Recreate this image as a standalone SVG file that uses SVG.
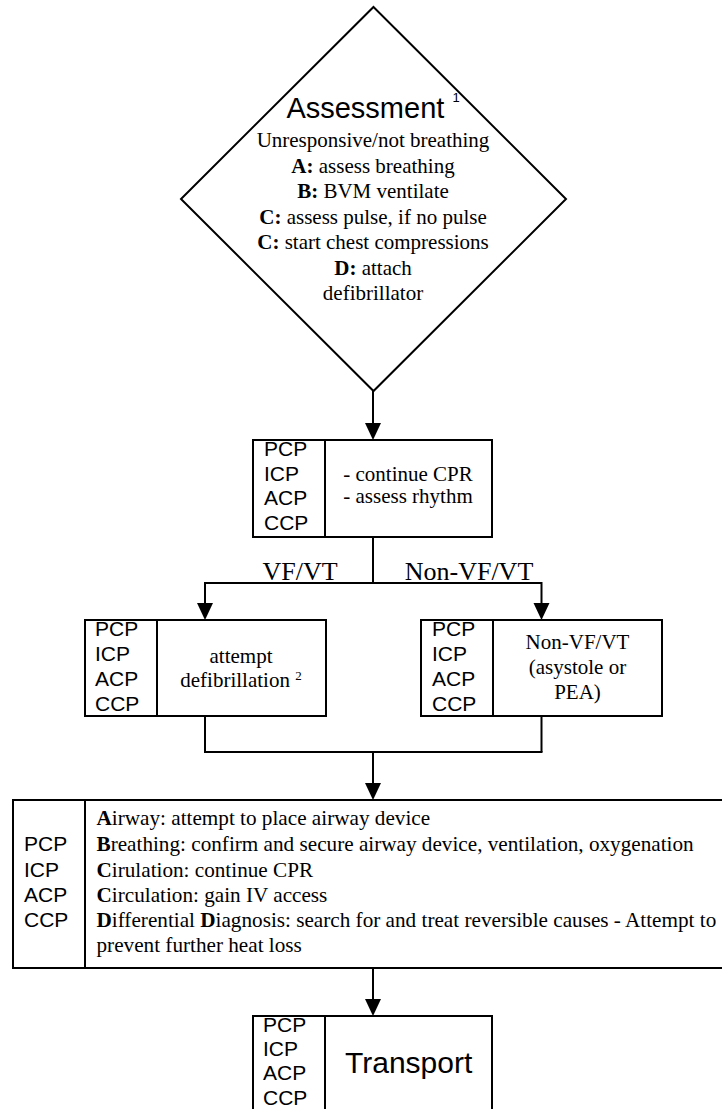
<svg xmlns="http://www.w3.org/2000/svg" width="722" height="1109" viewBox="0 0 722 1109">
<style>
.box{fill:#fff;stroke:#000;stroke-width:2}
.ln{fill:none;stroke:#000;stroke-width:2}
.s{font-family:"Liberation Serif","Times New Roman",serif;font-size:21px;fill:#000}
.a{font-family:"Liberation Sans",Arial,sans-serif;font-size:21px;fill:#000}
.m{text-anchor:middle}
.b{font-weight:bold}
.w{font-size:21.2px}
</style>
<rect width="722" height="1109" fill="#fff"/>

<g id="connectors">
<line class="ln" x1="373" y1="391" x2="373" y2="423"/>
<path d="M373,423 l-8,0 l8,17 l8,-17 z" fill="#000"/>
<line class="ln" x1="373" y1="537" x2="373" y2="583"/>
<line class="ln" x1="205" y1="583" x2="541.5" y2="583"/>
<line class="ln" x1="205" y1="582" x2="205" y2="604"/>
<path d="M205,603 l-8,0 l8,17 l8,-17 z" fill="#000"/>
<line class="ln" x1="541.5" y1="582" x2="541.5" y2="604"/>
<path d="M541.5,603 l-8,0 l8,17 l8,-17 z" fill="#000"/>
<text class="s" x="300" y="580" text-anchor="middle" style="font-size:26px">VF/VT</text>
<text class="s" x="469" y="580" text-anchor="middle" style="font-size:26px">Non-VF/VT</text>
<line class="ln" x1="205" y1="716" x2="205" y2="752"/>
<line class="ln" x1="541.5" y1="716" x2="541.5" y2="752"/>
<line class="ln" x1="204" y1="752" x2="542.5" y2="752"/>
<line class="ln" x1="373" y1="752" x2="373" y2="784"/>
<path d="M373,783 l-8,0 l8,17 l8,-17 z" fill="#000"/>
<line class="ln" x1="373" y1="968" x2="373" y2="1000"/>
<path d="M373,999 l-8,0 l8,17 l8,-17 z" fill="#000"/>
</g>

<g id="assessment">
<polygon points="373.5,7 566,199 373.5,391 181,199" fill="#fff" stroke="#000" stroke-width="2"/>
<text class="a m" x="373" y="118" style="font-size:29px">Assessment <tspan dy="-16" style="font-size:13px">1</tspan></text>
<text class="s m" x="373" y="147">Unresponsive/not breathing</text>
<text class="s m" x="373" y="172.5"><tspan class="b">A:</tspan> assess breathing</text>
<text class="s m" x="373" y="198"><tspan class="b">B:</tspan> BVM ventilate</text>
<text class="s m" x="373" y="223.5"><tspan class="b">C:</tspan> assess pulse, if no pulse</text>
<text class="s m" x="373" y="249"><tspan class="b">C:</tspan> start chest compressions</text>
<text class="s m" x="373" y="274.5"><tspan class="b">D:</tspan> attach</text>
<text class="s m" x="373" y="300">defibrillator</text>
</g>

<g id="cpr">
<rect class="box" x="253" y="440" width="239" height="97"/>
<line class="ln" x1="325" y1="440" x2="325" y2="537"/>
<text class="a" x="264" y="456">PCP</text>
<text class="a" x="264" y="480.5">ICP</text>
<text class="a" x="264" y="505">ACP</text>
<text class="a" x="264" y="529.5">CCP</text>
<text class="s m" x="408" y="481">- continue CPR</text>
<text class="s m" x="408" y="503">- assess rhythm</text>
</g>

<g id="defib">
<rect class="box" x="85" y="620" width="241" height="96"/>
<line class="ln" x1="157" y1="620" x2="157" y2="716"/>
<text class="a" x="95" y="636">PCP</text>
<text class="a" x="95" y="661">ICP</text>
<text class="a" x="95" y="686">ACP</text>
<text class="a" x="95" y="711">CCP</text>
<text class="s m" x="241" y="663">attempt</text>
<text class="s m" x="241" y="687">defibrillation <tspan dy="-7" style="font-size:13px">2</tspan></text>
</g>

<g id="nonvf">
<rect class="box" x="421" y="620" width="241" height="96"/>
<line class="ln" x1="493" y1="620" x2="493" y2="716"/>
<text class="a" x="432" y="636">PCP</text>
<text class="a" x="432" y="661">ICP</text>
<text class="a" x="432" y="686">ACP</text>
<text class="a" x="432" y="711">CCP</text>
<text class="s m" x="577.5" y="649">Non-VF/VT</text>
<text class="s m" x="577.5" y="674">(asystole or</text>
<text class="s m" x="577.5" y="699">PEA)</text>
</g>

<g id="abcd">
<rect class="box" x="13" y="800" width="712" height="168"/>
<line class="ln" x1="85" y1="800" x2="85" y2="968"/>
<text class="a" x="24" y="851">PCP</text>
<text class="a" x="24" y="876.5">ICP</text>
<text class="a" x="24" y="901.5">ACP</text>
<text class="a" x="24" y="927">CCP</text>
<text class="s w" x="96.5" y="825"><tspan class="b">A</tspan>irway: attempt to place airway device</text>
<text class="s w" x="96.5" y="851"><tspan class="b">B</tspan>reathing: confirm and secure airway device, ventilation, oxygenation</text>
<text class="s w" x="96.5" y="876.5"><tspan class="b">C</tspan>irulation: continue CPR</text>
<text class="s w" x="96.5" y="901.5"><tspan class="b">C</tspan>irculation: gain IV access</text>
<text class="s w" x="96.5" y="927"><tspan class="b">D</tspan>ifferential <tspan class="b">D</tspan>iagnosis: search for and treat reversible causes - Attempt to</text>
<text class="s w" x="96.5" y="952">prevent further heat loss</text>
</g>

<g id="transport">
<rect class="box" x="253" y="1016" width="239" height="110"/>
<line class="ln" x1="325" y1="1016" x2="325" y2="1126"/>
<text class="a" x="263" y="1031.5">PCP</text>
<text class="a" x="263" y="1056">ICP</text>
<text class="a" x="263" y="1080">ACP</text>
<text class="a" x="263" y="1104.5">CCP</text>
<text class="a" x="345" y="1073" style="font-size:30px">Transport</text>
</g>
</svg>
